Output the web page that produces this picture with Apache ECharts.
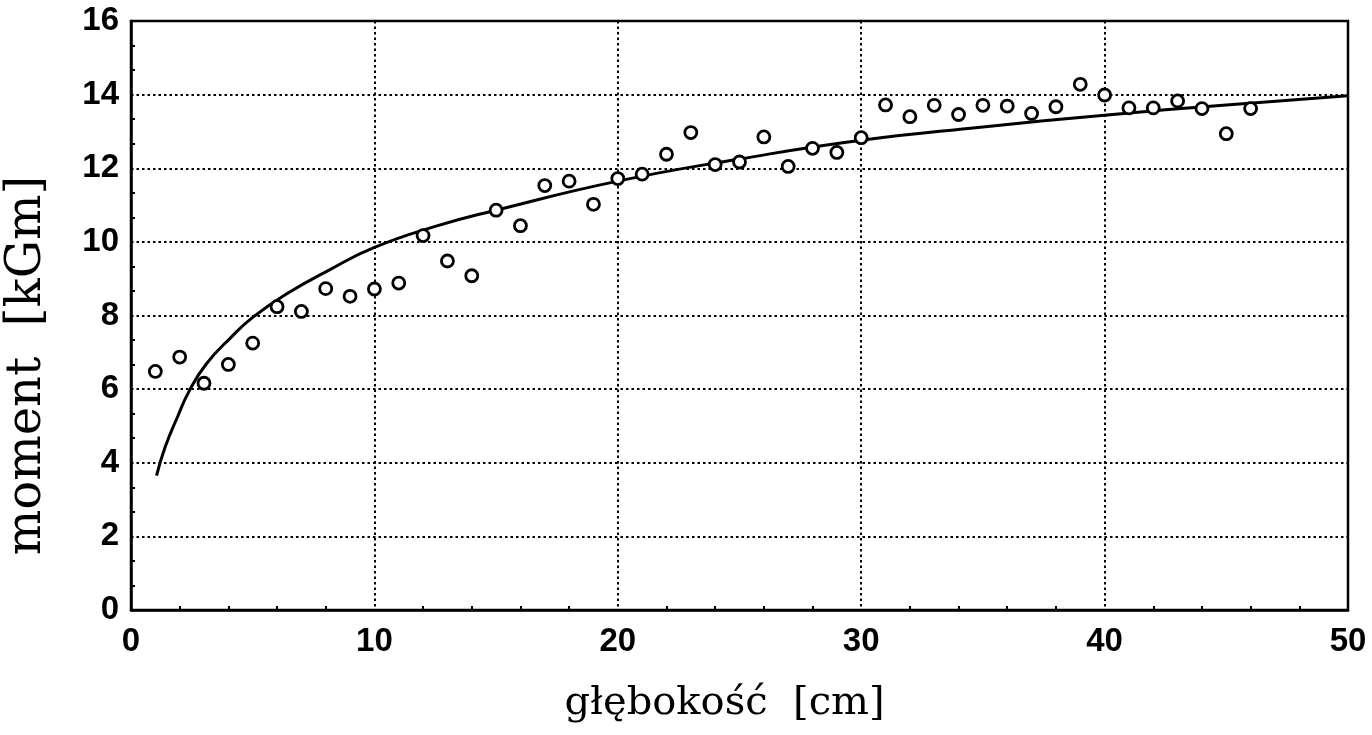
<!DOCTYPE html>
<html>
<head>
<meta charset="utf-8">
<script src="https://cdn.jsdelivr.net/npm/echarts@6/dist/echarts.min.js"></script>
<style>
html,body{margin:0;padding:0;background:#fff;}
#chart{width:1372px;height:735px;}
</style>
</head>
<body>
<div id="chart"></div>
<script>
// measured points: depth [cm] and moment [kGm]
const depth = [1,2,3,4,5,6,7,8,9,10,11,12,13,14,15,16,17,18,19,20,21,22,23,24,25,26,27,28,29,30,31,32,33,34,35,36,37,38,39,40,41,42,43,44,45,46];
const moment = [6.48,6.87,6.16,6.67,7.25,8.24,8.11,8.73,8.52,8.72,8.88,10.17,9.48,9.08,10.86,10.44,11.53,11.65,11.02,11.72,11.84,12.38,12.97,12.1,12.17,12.85,12.05,12.54,12.43,12.83,13.72,13.4,13.71,13.46,13.71,13.69,13.49,13.67,14.28,13.99,13.64,13.64,13.83,13.62,12.94,13.62];
// fitted curve
const curveX = [1.05,1.4,1.9,2.4,3.1,4.1,5,6.4,8.1,10,12.5,15,20,25,30,35,40,45,50];
const curveY = [3.65,4.42,5.23,5.96,6.69,7.4,7.95,8.59,9.22,9.85,10.42,10.86,11.65,12.25,12.76,13.12,13.44,13.72,13.97];
const xTicks = [0,10,20,30,40,50];
const yTicks = [0,2,4,6,8,10,12,14,16];
const xTitle = 'głębokość  [cm]';
const yTitle = 'moment  [kGm]';

const chart = echarts.init(document.getElementById('chart'), null, {renderer:'canvas'});
const gridLine = {show:true, lineStyle:{color:'#000', width:2, type:[2.5,3]}};
const labelStyle = {color:'#000', fontFamily:'Liberation Sans, Arial, sans-serif', fontWeight:'bold', fontSize:33};
chart.setOption({
  animation:false,
  backgroundColor:'#fff',
  grid:{left:131, right:24, top:21, bottom:125, show:true, borderColor:'#000', borderWidth:2.5, backgroundColor:'transparent', containLabel:false, outerBoundsMode:'none'},
  xAxis:{
    type:'value', min:xTicks[0], max:xTicks[xTicks.length-1], interval:10,
    axisLine:{show:true, lineStyle:{color:'#000', width:2.5}},
    axisTick:{show:false, inside:true},
    minorTick:{show:true, splitNumber:5, length:4, lineStyle:{color:'#000', width:2}},
    axisLabel:Object.assign({margin:15}, labelStyle),
    splitLine:gridLine,
    name:xTitle, nameLocation:'middle', nameGap:74,
    nameTextStyle:{color:'#000', fontFamily:'DejaVu Serif, serif', fontSize:40, padding:[0,30,0,0]}
  },
  yAxis:{
    type:'value', min:yTicks[0], max:yTicks[yTicks.length-1], interval:2,
    axisLine:{show:true, lineStyle:{color:'#000', width:2.5}},
    axisTick:{show:false, inside:true},
    minorTick:{show:true, splitNumber:3, length:4, lineStyle:{color:'#000', width:2}},
    axisLabel:Object.assign({margin:12}, labelStyle),
    splitLine:gridLine,
    name:yTitle, nameLocation:'middle', nameGap:79,
    nameTextStyle:{color:'#000', fontFamily:'DejaVu Serif, serif', fontSize:48, padding:[0,100,0,0]}
  },
  series:[
    {
      type:'line', data:curveX.map((x,i)=>[x,curveY[i]]), smooth:0.5, symbol:'none',
      lineStyle:{color:'#000', width:3}, z:3
    },
    {
      type:'scatter', data:depth.map((x,i)=>[x,moment[i]]), symbol:'circle', symbolSize:12,
      itemStyle:{color:'#fff', borderColor:'#000', borderWidth:2.8, opacity:1}, z:4
    }
  ]
});
</script>
</body>
</html>
